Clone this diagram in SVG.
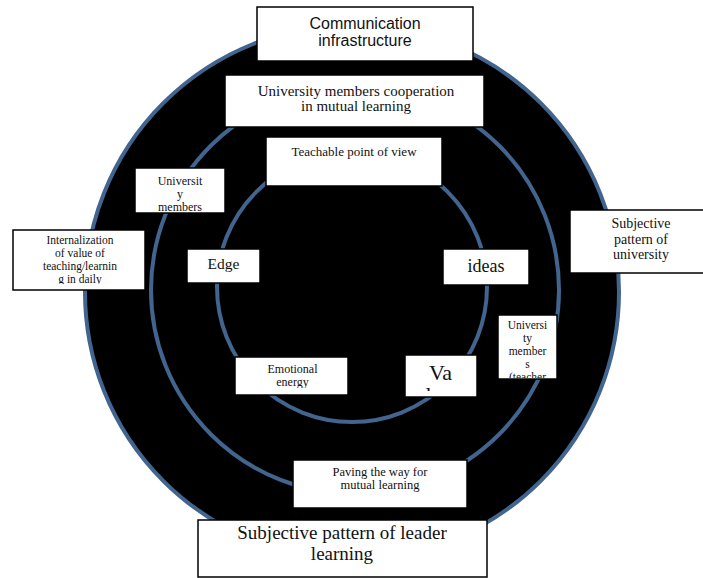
<svg xmlns="http://www.w3.org/2000/svg" width="703" height="578" viewBox="0 0 703 578">
<style>
.box{fill:#fff;stroke:#000;stroke-width:1.5}
.ring{fill:none;stroke:#41658F;stroke-width:4}
.serif{font-family:"Liberation Serif","Times New Roman",serif;fill:#111;text-anchor:middle}
.sans{font-family:"Liberation Sans",Arial,sans-serif;fill:#111;text-anchor:middle}
</style>
<defs>
<clipPath id="c4"><rect x="135" y="169" width="89" height="42"/></clipPath>
<clipPath id="c5"><rect x="14" y="231" width="131" height="53"/></clipPath>
<clipPath id="c9"><rect x="499" y="316" width="57" height="62"/></clipPath>
<clipPath id="c10"><rect x="236" y="358" width="112" height="30"/></clipPath>
<clipPath id="c11"><rect x="406" y="356" width="70" height="35"/></clipPath>
<clipPath id="c3"><rect x="267" y="145" width="174" height="40"/></clipPath>
<clipPath id="c12"><rect x="294" y="466" width="172" height="41"/></clipPath>
</defs>
<g id="rings">
<circle cx="352" cy="292" r="267" fill="#000" stroke="#41658F" stroke-width="4"/>
<circle class="ring" cx="355" cy="290" r="204"/>
<circle class="ring" cx="352" cy="287" r="135"/>
</g>
<g id="communication">
<rect class="box" x="257" y="7" width="216" height="54" stroke-width="2"/>
<text class="sans" font-size="16" x="365" y="29">Communication</text>
<text class="sans" font-size="16" x="365" y="46">infrastructure</text>
</g>
<g id="cooperation">
<rect class="box" x="225" y="75" width="259" height="52"/>
<text class="serif" font-size="15" x="356" y="96">University members cooperation</text>
<text class="serif" font-size="15" x="356" y="111">in mutual learning</text>
</g>
<g id="teachable">
<rect class="box" x="266" y="137" width="176" height="49"/>
<text class="serif" font-size="13" x="354" y="156" clip-path="url(#c3)">Teachable point of view</text>
</g>
<g id="university-members">
<rect class="box" x="135" y="168" width="90" height="45"/>
<g clip-path="url(#c4)">
<text class="serif" font-size="12" x="180" y="185">Universit</text>
<text class="serif" font-size="12" x="180" y="198">y</text>
<text class="serif" font-size="12" x="180" y="211">members</text>
</g>
</g>
<g id="internalization">
<rect class="box" x="13" y="230" width="132" height="60" stroke-width="2"/>
<g clip-path="url(#c5)">
<text class="serif" font-size="11.5" x="80" y="244">Internalization</text>
<text class="serif" font-size="11.5" x="80" y="257">of value of</text>
<text class="serif" font-size="11.5" x="80" y="270">teaching/learnin</text>
<text class="serif" font-size="11.5" x="80" y="283">g in daily</text>
</g>
</g>
<g id="subjective-university">
<rect class="box" x="570" y="210" width="135" height="63"/>
<text class="serif" font-size="14" x="641" y="228">Subjective</text>
<text class="serif" font-size="14" x="641" y="243.5">pattern of</text>
<text class="serif" font-size="14" x="641" y="259">university</text>
</g>
<g id="edge">
<rect class="box" x="187" y="249" width="73" height="34"/>
<text class="serif" font-size="15.5" x="223.5" y="268.5">Edge</text>
</g>
<g id="ideas">
<rect class="box" x="443" y="249" width="86" height="36"/>
<text class="serif" font-size="18" x="486" y="272">ideas</text>
</g>
<g id="university-members-teachers">
<rect class="box" x="498" y="315" width="59" height="64"/>
<g clip-path="url(#c9)">
<text class="serif" font-size="11.5" x="527.5" y="329">Universi</text>
<text class="serif" font-size="11.5" x="527.5" y="342">ty</text>
<text class="serif" font-size="11.5" x="527.5" y="355">member</text>
<text class="serif" font-size="11.5" x="527.5" y="368">s</text>
<text class="serif" font-size="11.5" x="527.5" y="381">(teacher</text>
</g>
</g>
<g id="emotional-energy">
<rect class="box" x="235" y="357" width="113" height="38"/>
<g clip-path="url(#c10)">
<text class="serif" font-size="12" x="292.5" y="373">Emotional</text>
<text class="serif" font-size="12" x="292.5" y="386">energy</text>
</g>
</g>
<g id="values">
<rect class="box" x="405" y="355" width="72" height="42"/>
<g clip-path="url(#c11)">
<text class="serif" font-size="22" x="440.5" y="380">Va</text>
<text class="serif" font-size="22" x="428.5" y="402">l</text>
</g>
</g>
<g id="paving">
<rect class="box" x="293" y="460" width="174" height="48"/>
<g clip-path="url(#c12)">
<text class="serif" font-size="12.5" x="380" y="476">Paving the way for</text>
<text class="serif" font-size="12.5" x="380" y="489">mutual learning</text>
</g>
</g>
<g id="leader-learning">
<rect class="box" x="198" y="520" width="289" height="57" stroke-width="2"/>
<text class="serif" font-size="19" x="342" y="539">Subjective pattern of leader</text>
<text class="serif" font-size="19" x="342" y="560">learning</text>
</g>
</svg>
